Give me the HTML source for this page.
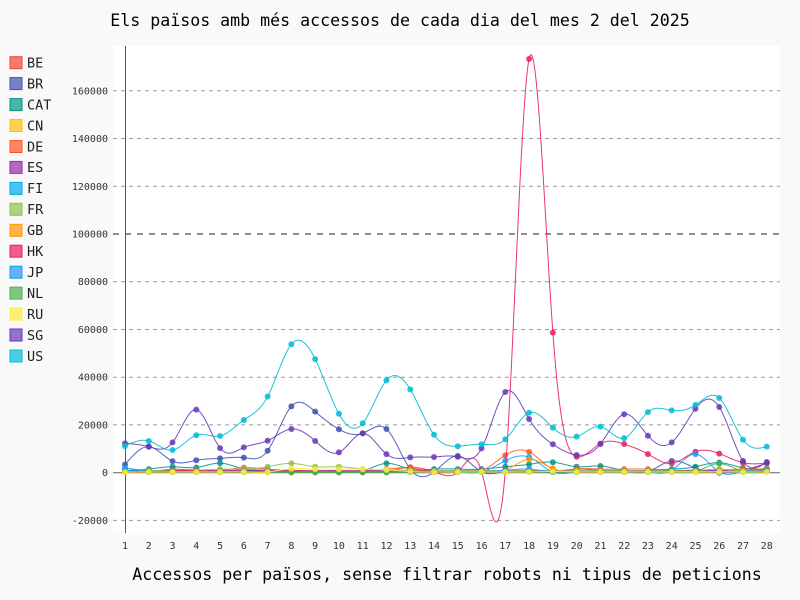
<!DOCTYPE html>
<html>
<head>
<meta charset="utf-8">
<style>
html,body{margin:0;padding:0;background:#f9f9f9;}
svg{display:block;}
text{font-family:"DejaVu Sans Mono","Liberation Mono",monospace;}
</style>
</head>
<body>
<svg id="chart" xmlns="http://www.w3.org/2000/svg" width="800" height="600" viewBox="0 0 800 600">
<defs>
<clipPath id="clip"><rect x="113" y="46" width="667" height="487"/></clipPath>
</defs>
<rect x="0" y="0" width="800" height="600" fill="#f9f9f9"/>
<rect x="113" y="46" width="667" height="487" fill="#ffffff"/>

<!-- title -->
<text x="400" y="26" text-anchor="middle" font-size="16.6" fill="#000">Els països amb més accessos de cada dia del mes 2 del 2025</text>
<text x="447" y="580" text-anchor="middle" font-size="16.6" fill="#000">Accessos per països, sense filtrar robots ni tipus de peticions</text>

<!-- guides -->
<g stroke-width="1" fill="none">
<line x1="113" x2="780" y1="90.8" y2="90.8" stroke="#999" stroke-dasharray="4,4"/>
<line x1="113" x2="780" y1="138.5" y2="138.5" stroke="#999" stroke-dasharray="4,4"/>
<line x1="113" x2="780" y1="186.3" y2="186.3" stroke="#999" stroke-dasharray="4,4"/>
<line x1="113" x2="780" y1="234.0" y2="234.0" stroke="#222" stroke-dasharray="6,6"/>
<line x1="113" x2="780" y1="281.7" y2="281.7" stroke="#999" stroke-dasharray="4,4"/>
<line x1="113" x2="780" y1="329.5" y2="329.5" stroke="#999" stroke-dasharray="4,4"/>
<line x1="113" x2="780" y1="377.2" y2="377.2" stroke="#999" stroke-dasharray="4,4"/>
<line x1="113" x2="780" y1="424.9" y2="424.9" stroke="#999" stroke-dasharray="4,4"/>
<line x1="113" x2="780" y1="520.4" y2="520.4" stroke="#999" stroke-dasharray="4,4"/>
<line x1="113" x2="780" y1="472.7" y2="472.7" stroke="#777" stroke-width="1.2"/>
<line x1="125.5" x2="125.5" y1="46" y2="533" stroke="#555"/>
</g>

<!-- y labels -->
<g font-size="10" fill="#333" text-anchor="end">
<text x="108" y="94.3">160000</text>
<text x="108" y="142">140000</text>
<text x="108" y="189.8">120000</text>
<text x="108" y="237.5">100000</text>
<text x="108" y="285.2">80000</text>
<text x="108" y="333">60000</text>
<text x="108" y="380.7">40000</text>
<text x="108" y="428.4">20000</text>
<text x="108" y="476.2">0</text>
<text x="108" y="523.9">-20000</text>
</g>

<!-- x labels -->
<g font-size="10" fill="#333" text-anchor="middle">
<text x="125" y="549">1</text>
<text x="148.8" y="549">2</text>
<text x="172.5" y="549">3</text>
<text x="196.3" y="549">4</text>
<text x="220.1" y="549">5</text>
<text x="243.9" y="549">6</text>
<text x="267.6" y="549">7</text>
<text x="291.4" y="549">8</text>
<text x="315.2" y="549">9</text>
<text x="338.9" y="549">10</text>
<text x="362.7" y="549">11</text>
<text x="386.5" y="549">12</text>
<text x="410.2" y="549">13</text>
<text x="434" y="549">14</text>
<text x="457.8" y="549">15</text>
<text x="481.6" y="549">16</text>
<text x="505.3" y="549">17</text>
<text x="529.1" y="549">18</text>
<text x="552.9" y="549">19</text>
<text x="576.6" y="549">20</text>
<text x="600.4" y="549">21</text>
<text x="624.2" y="549">22</text>
<text x="647.9" y="549">23</text>
<text x="671.7" y="549">24</text>
<text x="695.5" y="549">25</text>
<text x="719.3" y="549">26</text>
<text x="743" y="549">27</text>
<text x="766.8" y="549">28</text>
</g>

<!-- legend -->
<g font-size="13.5" fill="#222">
<rect x="10" y="56.7" width="12" height="12" fill="#F44336" fill-opacity="0.7" stroke="#F44336"/><text x="27" y="67.5">BE</text>
<rect x="10" y="77.6" width="12" height="12" fill="#3F51B5" fill-opacity="0.7" stroke="#3F51B5"/><text x="27" y="88.4">BR</text>
<rect x="10" y="98.6" width="12" height="12" fill="#009688" fill-opacity="0.7" stroke="#009688"/><text x="27" y="109.4">CAT</text>
<rect x="10" y="119.5" width="12" height="12" fill="#FFC107" fill-opacity="0.7" stroke="#FFC107"/><text x="27" y="130.3">CN</text>
<rect x="10" y="140.5" width="12" height="12" fill="#FF5722" fill-opacity="0.7" stroke="#FF5722"/><text x="27" y="151.3">DE</text>
<rect x="10" y="161.4" width="12" height="12" fill="#9C27B0" fill-opacity="0.7" stroke="#9C27B0"/><text x="27" y="172.2">ES</text>
<rect x="10" y="182.4" width="12" height="12" fill="#03A9F4" fill-opacity="0.7" stroke="#03A9F4"/><text x="27" y="193.2">FI</text>
<rect x="10" y="203.3" width="12" height="12" fill="#8BC34A" fill-opacity="0.7" stroke="#8BC34A"/><text x="27" y="214.1">FR</text>
<rect x="10" y="224.3" width="12" height="12" fill="#FF9800" fill-opacity="0.7" stroke="#FF9800"/><text x="27" y="235.1">GB</text>
<rect x="10" y="245.2" width="12" height="12" fill="#E91E63" fill-opacity="0.7" stroke="#E91E63"/><text x="27" y="256">HK</text>
<rect x="10" y="266.2" width="12" height="12" fill="#2196F3" fill-opacity="0.7" stroke="#2196F3"/><text x="27" y="277">JP</text>
<rect x="10" y="287.1" width="12" height="12" fill="#4CAF50" fill-opacity="0.7" stroke="#4CAF50"/><text x="27" y="297.9">NL</text>
<rect x="10" y="308.1" width="12" height="12" fill="#FFEB3B" fill-opacity="0.7" stroke="#FFEB3B"/><text x="27" y="318.9">RU</text>
<rect x="10" y="329" width="12" height="12" fill="#673AB7" fill-opacity="0.7" stroke="#673AB7"/><text x="27" y="339.8">SG</text>
<rect x="10" y="350" width="12" height="12" fill="#00BCD4" fill-opacity="0.7" stroke="#00BCD4"/><text x="27" y="360.8">US</text>
</g>

<g id="series" clip-path="url(#clip)"></g>
</svg>
<script>
(function(){
var S=[
["#F44336",[0.5,0.5,1.4,1.0,0.8,1.2,1.0,0.3,0.3,0.3,0.3,0.5,2.3,0.8,0.5,0.3,0.5,0.5,0.5,1.5,1.0,0.8,0.5,0.5,0.5,0.5,0.5,0.5]],
["#3F51B5",[3.4,10.9,4.8,5.2,6.0,6.3,9.2,27.8,25.6,18.2,16.5,18.3,1.5,0.3,7.0,0.4,0.5,0.5,0.3,0.3,0.5,0.5,0.5,4.9,2.0,0.0,1.0,4.0]],
["#009688",[1.0,1.5,2.5,2.2,4.0,1.5,0.8,0.5,0.5,0.8,0.8,3.9,1.5,1.5,1.5,1.5,2.5,3.5,4.4,2.5,2.8,1.0,1.0,1.5,2.5,4.2,2.0,1.5]],
["#FFC107",[0.3,0.3,0.3,0.3,0.3,0.3,0.3,0.3,0.3,0.3,0.3,0.3,0.3,0.3,0.3,0.3,0.5,1.0,0.5,0.3,0.3,0.3,0.3,0.3,0.3,0.3,0.3,0.5]],
["#FF5722",[0.5,0.8,1.0,1.2,1.0,2.1,1.5,1.0,0.8,0.8,0.8,1.5,2.0,0.5,0.5,0.8,7.3,8.7,1.5,1.5,1.5,1.5,1.5,1.0,1.0,1.0,1.5,1.5]],
["#9C27B0",[0.8,0.8,0.8,0.8,0.8,0.8,0.8,0.8,0.8,0.8,0.8,0.8,0.8,0.8,0.8,0.8,0.8,0.8,0.8,0.8,0.8,0.8,0.8,0.8,1.0,0.8,0.8,0.8]],
["#03A9F4",[2.0,0.8,0.5,0.5,0.5,0.5,0.5,0.5,0.5,0.5,0.5,0.5,0.5,0.5,0.3,0.3,5.0,6.5,0.3,0.3,0.3,0.3,0.3,0.5,0.5,0.3,0.3,0.5]],
["#8BC34A",[0.5,0.8,1.0,1.0,1.5,1.5,2.5,3.9,2.5,2.5,1.5,1.2,1.0,0.8,0.8,0.8,0.8,0.8,0.8,0.8,0.8,0.8,0.8,0.8,0.8,1.5,0.8,1.5]],
["#FF9800",[0.3,0.3,0.5,0.5,0.5,0.5,0.5,0.5,0.5,0.5,0.5,0.5,0.5,0.5,0.5,0.5,1.0,5.6,1.8,0.5,0.5,0.5,0.5,0.5,0.5,0.5,0.8,2.0]],
["#E91E63",[0.3,0.3,0.8,0.8,0.5,0.5,0.5,0.3,0.3,0.3,0.3,0.3,0.5,0.3,0.3,0.5,1.0,173.3,58.7,6.7,12.2,12.0,7.8,3.9,8.8,8.0,4.2,4.0]],
["#2196F3",[1.0,0.5,0.5,0.5,0.5,0.5,0.5,0.5,0.5,0.5,0.5,0.5,0.5,0.5,0.5,0.5,1.0,1.5,0.3,0.3,0.3,0.3,0.3,1.0,7.8,0.3,0.5,1.5]],
["#4CAF50",[0.3,0.3,0.3,0.3,0.3,0.3,0.3,0.1,0.1,0.1,0.1,0.1,0.3,0.3,0.3,0.3,0.3,0.3,0.3,0.3,0.3,0.3,0.3,0.3,0.5,3.8,0.5,0.5]],
["#FFEB3B",[0.2,0.3,0.3,0.3,0.3,0.3,0.3,1.7,1.5,1.5,1.5,1.2,0.5,0.3,0.3,0.3,0.3,0.3,0.5,0.3,0.3,0.3,0.3,0.3,0.3,0.3,0.3,0.3]],
["#673AB7",[12.3,10.9,12.7,26.4,10.3,10.6,13.4,18.3,13.3,8.5,16.5,7.8,6.4,6.6,6.7,10.2,33.8,22.5,11.9,7.4,12.0,24.5,15.5,12.7,26.8,27.5,4.9,4.5]],
["#00BCD4",[11.2,13.3,9.5,15.7,15.4,22.1,31.9,53.8,47.6,24.7,20.7,38.7,34.9,15.9,11.1,11.9,14.0,25.1,18.9,15.1,19.3,14.5,25.4,26.1,28.4,31.3,13.8,10.9]]
];
function X(i){return 125+i*23.77;}
function Y(v){return 472.7-v*2.387;}
function cubic(x,y,prec){
  var n=x.length-1,a=y,b=[],c=[],d=[],m=[],z=[],h=[],k=[],g=[],i,j,out=[];
  for(i=0;i<=n;i++){b[i]=0;c[i]=0;d[i]=0;m[i]=0;z[i]=0;}
  for(i=0;i<n;i++){h[i]=x[i+1]-x[i];k[i]=a[i+1]-a[i];g[i]=h[i]?k[i]/h[i]:1;}
  for(i=1;i<n;i++){j=i-1;var l=(x[i+1]-x[j])?1/(2*(x[i+1]-x[j])-h[j]*m[j]):0;m[i]=h[i]*l;z[i]=(3*(g[i]-g[j])-h[j]*z[j])*l;}
  for(j=n-1;j>=0;j--){if(h[j]===0)continue;c[j]=z[j]-(m[j]*c[j+1]);b[j]=g[j]-(h[j]*(c[j+1]+2*c[j]))/3;d[j]=(c[j+1]-c[j])/(3*h[j]);}
  for(i=0;i<=n;i++){out.push([x[i],a[i]]);if(i===n||h[i]===0)continue;
    for(var s=1;s<prec;s++){var XX=s*h[i]/prec;out.push([x[i]+XX,a[i]+b[i]*XX+c[i]*XX*XX+d[i]*XX*XX*XX]);}}
  return out;
}
var NS="http://www.w3.org/2000/svg",G=document.getElementById("series");
S.forEach(function(s){
  var col=s[0],vals=s[1],xs=[],ys=[];
  for(var i=0;i<vals.length;i++){xs.push(X(i));ys.push(Y(vals[i]));}
  var pts=cubic(xs,ys,40),dstr="M"+pts.map(function(p){return p[0].toFixed(2)+" "+p[1].toFixed(2);}).join(" L");
  var g=document.createElementNS(NS,"g");
  var p=document.createElementNS(NS,"path");
  p.setAttribute("d",dstr);p.setAttribute("fill","none");p.setAttribute("stroke",col);p.setAttribute("stroke-width","1");p.setAttribute("stroke-opacity","0.9");
  g.appendChild(p);
  for(i=0;i<vals.length;i++){
    var c=document.createElementNS(NS,"circle");
    c.setAttribute("cx",xs[i]);c.setAttribute("cy",ys[i]);c.setAttribute("r","3");c.setAttribute("fill",col);c.setAttribute("fill-opacity","0.85");
    g.appendChild(c);
  }
  G.appendChild(g);
});
})();
</script>
</body>
</html>
